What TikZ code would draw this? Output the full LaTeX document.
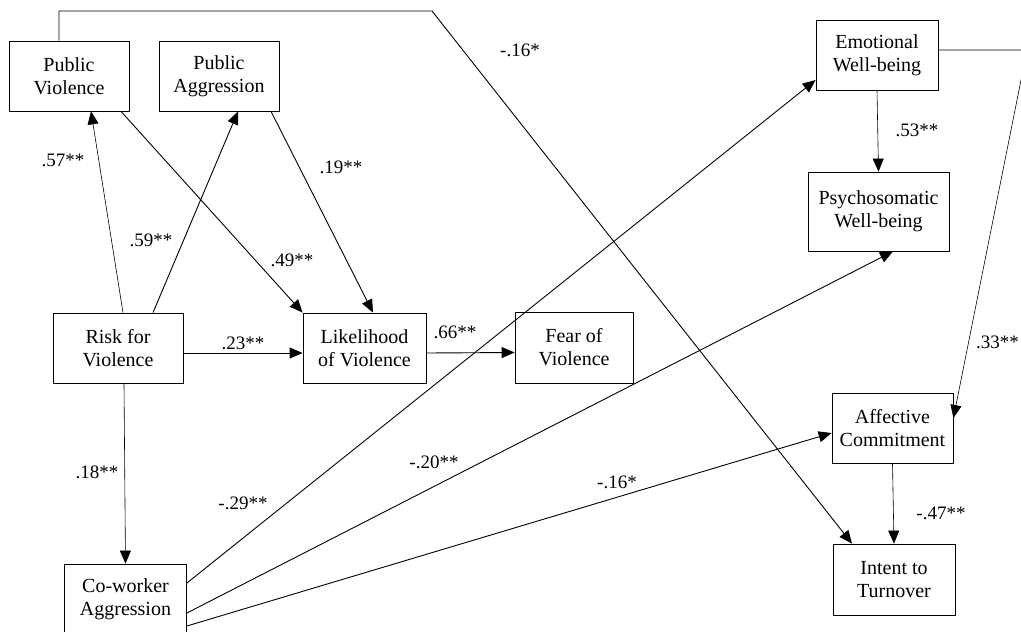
\documentclass[tikz,border=0pt]{standalone}
\usepackage{fontspec}
\setmainfont{Liberation Serif}
\usetikzlibrary{arrows.meta}
\begin{document}
\begin{tikzpicture}[x=1pt,y=-1pt,
  box/.style={draw,line width=0.8pt,inner sep=0pt,align=center,
    font=\fontsize{20}{23}\selectfont},
  lab/.style={inner sep=0pt,font=\fontsize{19}{22}\selectfont},
  arr/.style={line width=0.9pt,-{Triangle[length=13pt,width=11pt]}},
  thinarr/.style={line width=0.6pt,-{Triangle[length=13pt,width=11pt]}}]
\useasboundingbox (0,0) rectangle (1021,632);
% boxes
\node[box,minimum width=120pt,minimum height=70pt] (PV) at (69,76) {Public\\Violence};
\node[box,minimum width=120pt,minimum height=70pt] (PA) at (219,76) {Public\\Aggression};
\node[box,minimum width=130pt,minimum height=70pt] (RV) at (118,348) {Risk for\\Violence};
\node[box,minimum width=123pt,minimum height=70pt] (LV) at (364.5,348) {Likelihood\\of Violence};
\node[box,minimum width=118pt,minimum height=71pt] (FV) at (574,347.5) {Fear of\\Violence};
\node[box,minimum width=122pt,minimum height=70pt] (CA) at (125.5,599) {Co-worker\\Aggression};
\node[box,minimum width=122pt,minimum height=70pt] (EW) at (877,55) {Emotional\\Well-being};
\node[box,minimum width=141pt,minimum height=79pt] (PW) at (878.5,211.5) {Psychosomatic\\Well-being};
\node[box,minimum width=121pt,minimum height=70pt] (AC) at (892.5,428) {Affective\\Commitment};
\node[box,minimum width=122pt,minimum height=71pt] (IT) at (894,579.5) {Intent to\\Turnover};
\coordinate (c1) at (59,11);
\coordinate (c2) at (432,11);
\coordinate (c3) at (1027,50);
% connectors
\draw[thinarr] ([xshift=5pt]RV.north) -- ([xshift=22pt]PV.south);
\draw[arr] ([xshift=35pt]RV.north) -- ([xshift=19pt]PA.south);
\draw[arr] ([xshift=52pt]PV.south) -- (LV.north west);
\draw[arr] ([xshift=52pt]PA.south) -- ([xshift=8.5pt]LV.north);
\draw[arr] ([yshift=-5pt]RV.east) -- ([yshift=-5pt]LV.west);
\draw[arr] ([yshift=-5pt]LV.east) -- ([yshift=-5pt]FV.west);
\draw[thinarr] ([xshift=6pt]RV.south) -- (CA.north);
\draw[arr] ([yshift=16pt]CA.east) -- ([yshift=-25pt]EW.west);
\draw[arr] ([yshift=-14pt]CA.east) -- ([xshift=14.5pt]PW.south);
\draw[arr] ([yshift=-27pt]CA.east) -- ([yshift=-5pt]AC.west);
\draw[thinarr] (EW.south) -- (PW.north);
\draw[thinarr] (AC.south) -- (IT.north);
\draw[thinarr] ([yshift=5pt]EW.east) -- (c3) -- ([yshift=10pt]AC.east);
\draw[arr] ([xshift=-10pt]PV.north) -- (c1) -- (c2) -- ([xshift=-42pt]IT.north);
% labels
\node[lab] (l57) at (63,160) {.57**};
\node[lab] (l59) at (151,240) {.59**};
\node[lab] (l49) at (292,260) {.49**};
\node[lab] (l19) at (341,167) {.19**};
\node[lab] (l23) at (243,343) {.23**};
\node[lab] (l66) at (455,332) {.66**};
\node[lab] (l18) at (97,472) {.18**};
\node[lab] (l29) at (243,503) {-.29**};
\node[lab] (l20) at (434,462) {-.20**};
\node[lab] (l16b) at (617,482) {-.16*};
\node[lab] (l47) at (941,513) {-.47**};
\node[lab] (l53) at (917,130) {.53**};
\node[lab] (l16a) at (520,50) {-.16*};
\node[lab,anchor=east] (l33) at (1019,342) {.33**};
\end{tikzpicture}
\end{document}
